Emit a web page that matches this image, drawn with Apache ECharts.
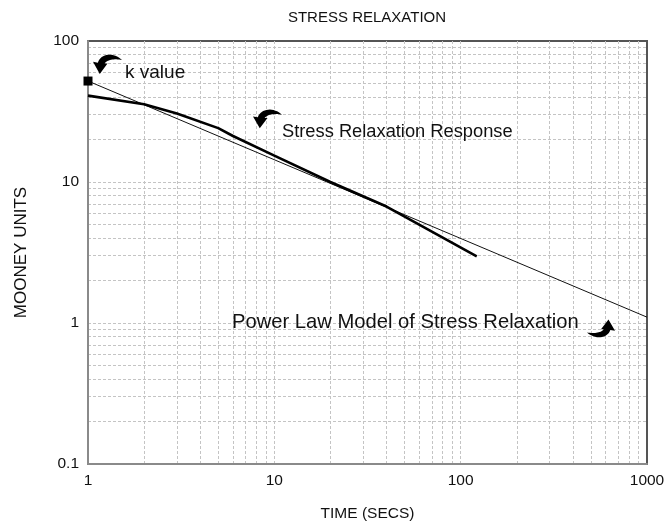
<!DOCTYPE html>
<html>
<head>
<meta charset="utf-8">
<script src="https://cdn.jsdelivr.net/npm/echarts@6/dist/echarts.min.js"></script>
<style>
html,body{margin:0;padding:0;background:#fff;}
#chart{width:669px;height:527px;}
</style>
</head>
<body>
<div id="chart"></div>
<script>
// ---- data ----
const responseTime   = [1, 2, 3, 5, 6, 10, 20, 40, 122];
const responseMooney = [41, 35.6, 30.6, 24.1, 21.2, 15.4, 10.0, 6.7, 2.97];
const powerLawTime   = [1, 1000];
const powerLawMooney = [52, 1.1];
const kValuePoint    = [1, 52];
const xTickLabels    = [1, 10, 100, 1000];
const yTickLabels    = [0.1, 1, 10, 100];
const xGridValues    = [2,3,4,5,6,7,8,9,10,20,30,40,50,60,70,80,90,100,200,300,400,500,600,700,800,900];
const yGridValues    = [0.2,0.3,0.4,0.5,0.6,0.7,0.8,0.9,1,2,3,4,5,6,7,8,9,10,20,30,40,50,60,70,80,90];

const FONT = '"Liberation Sans", Arial, Helvetica, sans-serif';

function zip(a, b) { return a.map((v, i) => [v, b[i]]); }

// curled arrow outline (30x24 box): tail at top-right, head pointing down-left
const ARROW_SEGS = [
  ['M', 30, 7],
  ['C', 22, -2, 8, -1, 5, 10],
  ['L', 0, 9],
  ['L', 7, 23],
  ['L', 15, 11],
  ['L', 12, 11],
  ['C', 14, 7, 22, 5, 30, 7]
];
function arrowPoints(x0, y0, w, h, flip) {
  const W = 30, H = 24;
  const raw = [];
  let cur = null;
  ARROW_SEGS.forEach(s => {
    if (s[0] === 'M' || s[0] === 'L') {
      cur = [s[1], s[2]];
      raw.push(cur);
    } else {
      const p0 = cur, p1 = [s[1], s[2]], p2 = [s[3], s[4]], p3 = [s[5], s[6]];
      for (let i = 1; i <= 16; i++) {
        const t = i / 16, u = 1 - t;
        raw.push([
          u*u*u*p0[0] + 3*u*u*t*p1[0] + 3*u*t*t*p2[0] + t*t*t*p3[0],
          u*u*u*p0[1] + 3*u*u*t*p1[1] + 3*u*t*t*p2[1] + t*t*t*p3[1]
        ]);
      }
      cur = p3;
    }
  });
  return raw.map(p => {
    let x = p[0], y = p[1];
    if (flip) { x = W - x; y = H - y; }
    return [x0 + x * w / W, y0 + (y + 1) * h / (H + 1)];
  });
}

const chart = echarts.init(document.getElementById('chart'), null, {renderer: 'canvas'});

const option = {
  animation: false,
  backgroundColor: '#fff',
  grid: {
    left: 88, right: 22, top: 41, bottom: 54,
    show: true, borderColor: '#555', borderWidth: 2
  },
  xAxis: {
    type: 'log', logBase: 10, min: 1, max: 1000,
    name: 'TIME (SECS)', nameLocation: 'middle', nameGap: 42,
    nameTextStyle: {fontFamily: FONT, fontSize: 15.5, color: '#111'},
    axisLine: {show: true, lineStyle: {color: '#8a8a8a', width: 2}},
    axisTick: {show: false},
    splitLine: {show: false},
    axisLabel: {
      fontFamily: FONT, fontSize: 15.5, color: '#111', margin: 9,
      formatter: v => (xTickLabels.indexOf(Math.round(v)) >= 0 ? String(Math.round(v)) : '')
    }
  },
  yAxis: {
    type: 'log', logBase: 10, min: 0.1, max: 100,
    name: 'MOONEY UNITS', nameLocation: 'middle', nameGap: 58,
    nameTextStyle: {fontFamily: FONT, fontSize: 17, color: '#111'},
    axisLine: {show: true, lineStyle: {color: '#8a8a8a', width: 2}},
    axisTick: {show: false},
    splitLine: {show: false},
    axisLabel: {
      fontFamily: FONT, fontSize: 15.5, color: '#111', margin: 9,
      formatter: v => {
        const r = Math.round(v * 10) / 10;
        return yTickLabels.indexOf(r) >= 0 ? String(r) : '';
      }
    }
  },
  series: [
    {
      name: 'grid',
      type: 'line',
      data: [],
      z: 0,
      zlevel: 0,
      silent: true,
      markLine: {
        silent: true,
        z: 0,
        symbol: ['none', 'none'],
        label: {show: false},
        lineStyle: {color: '#c4c4c4', width: 1, type: [3, 2]},
        data: xGridValues.map(v => ({xAxis: v})).concat(yGridValues.map(v => ({yAxis: v})))
      }
    },
    {
      name: 'Power Law Model',
      type: 'line',
      data: zip(powerLawTime, powerLawMooney),
      showSymbol: false,
      symbol: 'none',
      zlevel: 1,
      z: 3,
      lineStyle: {color: '#111', width: 1}
    },
    {
      name: 'Stress Relaxation Response',
      type: 'line',
      data: zip(responseTime, responseMooney),
      showSymbol: false,
      symbol: 'none',
      zlevel: 1,
      z: 4,
      lineStyle: {color: '#000', width: 2.6}
    },
    {
      name: 'k value',
      type: 'scatter',
      data: [kValuePoint],
      symbol: 'rect',
      symbolSize: 9,
      clip: false,
      zlevel: 1,
      z: 5,
      itemStyle: {color: '#000', opacity: 1}
    }
  ],
  graphic: [
    {type: 'text', zlevel: 2, x: 367, y: 18, style: {text: 'STRESS RELAXATION', fontFamily: FONT, fontSize: 15, fill: '#111', textAlign: 'center', textVerticalAlign: 'middle'}},
    {type: 'text', zlevel: 2, x: 125, y: 73, style: {text: 'k value', fontFamily: FONT, fontSize: 19, fill: '#111', textAlign: 'left', textVerticalAlign: 'middle'}},
    {type: 'text', zlevel: 2, x: 282, y: 132, style: {text: 'Stress Relaxation Response', fontFamily: FONT, fontSize: 18.3, fill: '#111', textAlign: 'left', textVerticalAlign: 'middle'}},
    {type: 'text', zlevel: 2, x: 232, y: 322, style: {text: 'Power Law Model of Stress Relaxation', fontFamily: FONT, fontSize: 20.2, fill: '#111', textAlign: 'left', textVerticalAlign: 'middle'}},
    {type: 'polygon', zlevel: 2, shape: {points: arrowPoints(93, 53, 29, 22, false)}, style: {fill: '#000'}},
    {type: 'polygon', zlevel: 2, shape: {points: arrowPoints(253, 108, 29, 21, false)}, style: {fill: '#000'}},
    {type: 'polygon', zlevel: 2, shape: {points: arrowPoints(587, 318, 28, 20, true)}, style: {fill: '#000'}}
  ]
};

chart.setOption(option);
</script>
</body>
</html>
